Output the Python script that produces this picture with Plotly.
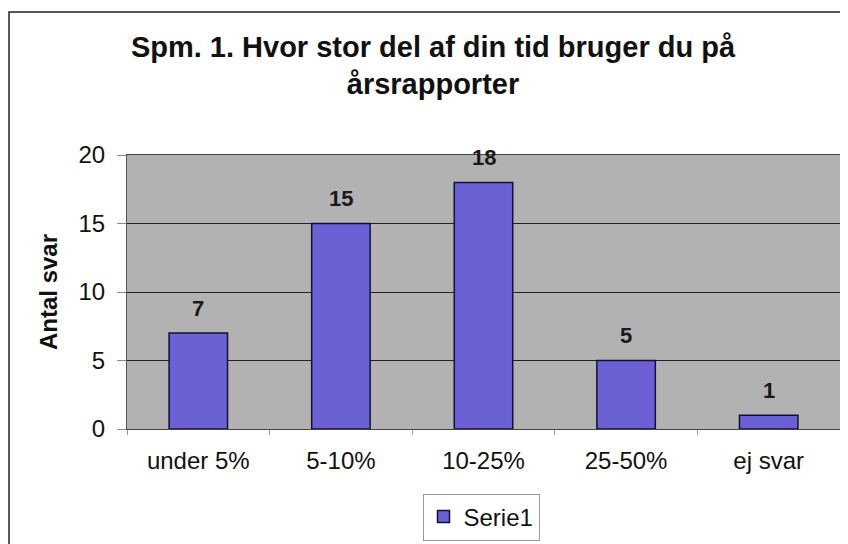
import plotly.graph_objects as go

categories = ["under 5%", "5-10%", "10-25%", "25-50%", "ej svar"]
values = [7, 15, 18, 5, 1]
series_name = "Serie1"
y_ticks = [0, 5, 10, 15, 20]
title_text = "Spm. 1. Hvor stor del af din tid bruger du på<br>årsrapporter"
y_title = "Antal svar"

FONT = "Liberation Sans, Arial, sans-serif"

# figure is placed by the page with an 8px body margin; sizes account for that
W, H = 840, 544
L, R, T, B = 119, 8, 147, 123
PW, PH = W - L - R, H - T - B


def px(fx):
    return (fx - L) / PW


def py(fy):
    return (H - B - fy) / PH


fig = go.Figure()
fig.add_trace(go.Bar(
    x=categories, y=values, name=series_name,
    marker=dict(color="#6b60d4", line=dict(color="#111133", width=1.5)),
    width=0.41,
))

for c, v in zip(categories, values):
    fig.add_annotation(x=c, y=v, text=f"<b>{v}</b>", showarrow=False,
                       yshift=25, font=dict(size=22, color="#1a1a1a", family=FONT))

# outer chart border
fig.add_shape(type="rect", xref="paper", yref="paper",
              x0=px(1), x1=px(850), y0=py(600), y1=py(4),
              line=dict(color="#222", width=1.5), fillcolor="rgba(0,0,0,0)", layer="below")

fig.update_layout(
    width=W, height=H,
    margin=dict(l=L, r=R, t=T, b=B),
    paper_bgcolor="white", plot_bgcolor="#b2b2b2",
    font=dict(family=FONT, size=24, color="#111"),
    title=dict(text=f"<b>{title_text}</b>", x=425 / W, xanchor="center",
               y=1 - 48.5 / H, yanchor="middle",
               font=dict(size=29, family=FONT, color="#111")),
    showlegend=True,
    legend=dict(orientation="h", x=px(473), xanchor="center",
                y=py(509), yanchor="middle",
                bordercolor="#999", borderwidth=1, bgcolor="white",
                itemwidth=30,
                font=dict(size=24, family=FONT)),
)
fig.update_xaxes(showgrid=False, showline=True, linecolor="#444", mirror=True,
                 ticks="outside", ticklen=5, tickcolor="#999", tickson="boundaries",
                 ticklabelstandoff=10, tickfont=dict(size=24))
fig.update_yaxes(range=[0, 20], tickvals=y_ticks, showgrid=True, gridcolor="#222",
                 gridwidth=1, showline=True, linecolor="#555", mirror=True,
                 ticks="outside", ticklen=9, tickcolor="#888",
                 ticklabelstandoff=7,
                 tickfont=dict(size=24), zeroline=False,
                 title=dict(text=f"<b>{y_title}</b>", font=dict(size=24), standoff=14))

fig.write_html("out.html")
